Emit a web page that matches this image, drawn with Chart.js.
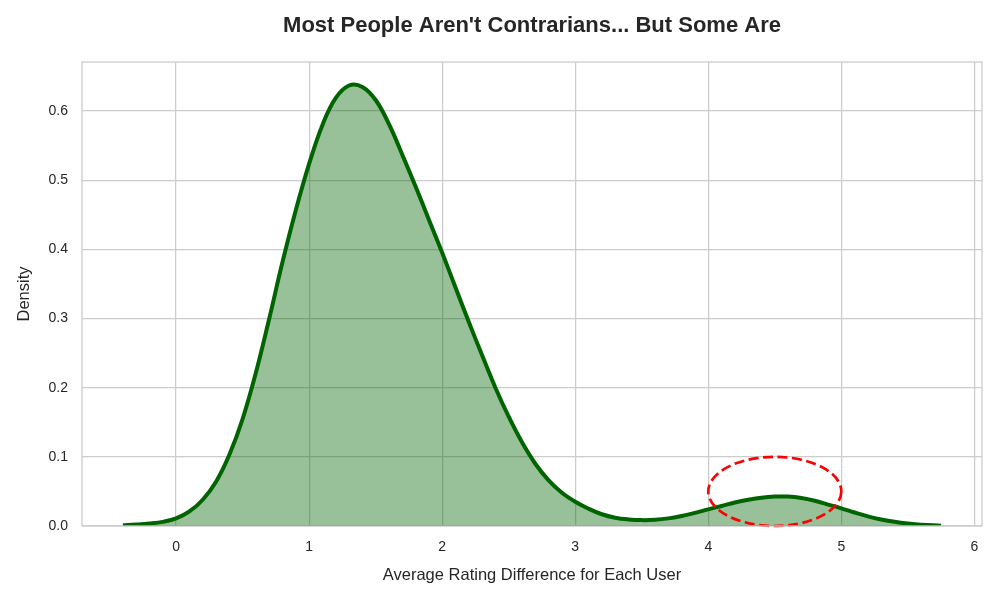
<!DOCTYPE html>
<html>
<head>
<meta charset="utf-8">
<script src="https://cdn.jsdelivr.net/npm/chart.js@4.4.1/dist/chart.umd.min.js"></script>
<style>
  html, body { margin: 0; padding: 0; background: #ffffff; }
  #wrap { width: 1000px; height: 600px; }
</style>
</head>
<body>
<div id="wrap"><canvas id="c" width="1000" height="600"></canvas></div>
<script>
// ---- data ----
const xValues = [-0.4, -0.3, -0.2, -0.1, 0.0, 0.1, 0.2, 0.3, 0.4, 0.5, 0.6, 0.7, 0.8, 0.9, 1.0,
  1.1, 1.2, 1.3, 1.4, 1.5, 1.6, 1.7, 1.8, 1.9, 2.0, 2.1, 2.2, 2.3, 2.4, 2.5, 2.6, 2.7,
  2.8, 2.9, 3.0, 3.1, 3.2, 3.3, 3.4, 3.5, 3.6, 3.7, 3.8, 3.9, 4.0, 4.1, 4.2, 4.3, 4.4, 4.5,
  4.6, 4.7, 4.8, 4.9, 5.0, 5.1, 5.2, 5.3, 5.4, 5.5, 5.6, 5.75];
const densityValues = [0.001, 0.002, 0.0035, 0.006, 0.011, 0.021, 0.038, 0.064, 0.103, 0.155, 0.222,
  0.300, 0.382, 0.457, 0.524, 0.580, 0.619, 0.637, 0.635, 0.616, 0.581, 0.537, 0.491,
  0.443, 0.395, 0.345, 0.295, 0.247, 0.200, 0.158, 0.121, 0.090, 0.066, 0.048, 0.035, 0.025,
  0.017, 0.012, 0.0095, 0.0085, 0.009, 0.011, 0.0145, 0.019, 0.024, 0.029, 0.034, 0.038, 0.041,
  0.0425, 0.0425, 0.0405, 0.0365, 0.031, 0.0255, 0.0195, 0.014, 0.0095, 0.006, 0.0035, 0.0018, 0.0005];
const xTicks = [0, 1, 2, 3, 4, 5, 6];
const yTicks = [0.0, 0.1, 0.2, 0.3, 0.4, 0.5, 0.6];
const highlight = { cx: 4.5, cy: 0.05, width: 1.0, height: 0.1 };
const titleText = "Most People Aren't Contrarians... But Some Are";
const xLabel = 'Average Rating Difference for Each User';
const yLabel = 'Density';

const curve = xValues.map((x, i) => ({ x: x, y: densityValues[i] }));
const baseLine = [{ x: xValues[0], y: 0 }, { x: xValues[xValues.length - 1], y: 0 }];

const FONT = "'Liberation Sans', Arial, sans-serif";
const TEXT = '#262626';
const GRID = '#cccccc';

const framePlugin = {
  id: 'frame',
  afterDatasetsDraw(chart) {
    const { ctx, chartArea: a, scales } = chart;
    const xs = scales.x, ys = scales.y;
    const cx = xs.getPixelForValue(highlight.cx);
    const cy = ys.getPixelForValue(highlight.cy);
    const rx = Math.abs(xs.getPixelForValue(highlight.cx + highlight.width / 2) - cx);
    const ry = Math.abs(ys.getPixelForValue(highlight.cy + highlight.height / 2) - cy);
    ctx.save();
    ctx.beginPath();
    ctx.ellipse(cx, cy, rx, ry, 0, 0, Math.PI * 2);
    ctx.setLineDash([10, 4.5]);
    ctx.lineWidth = 2.7;
    ctx.strokeStyle = '#ff0000';
    ctx.stroke();
    ctx.restore();
    ctx.save();
    ctx.strokeStyle = GRID;
    ctx.lineWidth = 1.3;
    ctx.strokeRect(a.left, a.top, a.right - a.left, a.bottom - a.top);
    ctx.restore();
  },
  afterDraw(chart) {
    const { ctx, chartArea: a } = chart;
    ctx.save();
    ctx.fillStyle = TEXT;
    ctx.font = "bold 22px " + FONT;
    ctx.textAlign = 'center';
    ctx.textBaseline = 'middle';
    ctx.fillText(titleText, (a.left + a.right) / 2, 26);
    ctx.restore();
  }
};

new Chart(document.getElementById('c'), {
  type: 'line',
  data: {
    datasets: [
      {
        data: curve,
        borderColor: '#006400',
        borderWidth: 4,
        backgroundColor: 'rgba(0,100,0,0.4)',
        fill: 'origin',
        pointRadius: 0,
        tension: 0.4,
        order: 1
      },
      {
        data: baseLine,
        borderColor: 'rgba(0,100,0,0.8)',
        borderWidth: 1.3,
        pointRadius: 0,
        fill: false,
        order: 2
      }
    ]
  },
  options: {
    responsive: false,
    animation: false,
    layout: { padding: { left: 0, right: 18, top: 62, bottom: 0 } },
    plugins: { legend: { display: false }, tooltip: { enabled: false } },
    elements: { line: { capBezierPoints: true } },
    scales: {
      x: {
        type: 'linear',
        min: -0.7075,
        max: 6.0575,
        afterBuildTicks(s) { s.ticks = xTicks.map(v => ({ value: v })); },
        afterFit(s) { s.height = 74; },
        grid: { color: GRID, lineWidth: 1.25, drawTicks: false },
        border: { display: false },
        ticks: { padding: 13, color: TEXT, font: { family: FONT, size: 14 }, callback: v => String(v) },
        title: { display: true, text: xLabel, color: TEXT, font: { family: FONT, size: 16.5 }, padding: { bottom: 15 } }
      },
      y: {
        type: 'linear',
        min: 0,
        max: 0.671,
        afterBuildTicks(s) { s.ticks = yTicks.map(v => ({ value: v })); },
        afterFit(s) { s.width = 82; },
        grid: { color: GRID, lineWidth: 1.25, drawTicks: false },
        border: { display: false },
        ticks: { padding: 14, color: TEXT, font: { family: FONT, size: 14 }, callback: v => Number(v).toFixed(1) },
        title: { display: true, text: yLabel, color: TEXT, font: { family: FONT, size: 16.5 }, padding: { top: 15 } }
      }
    }
  },
  plugins: [framePlugin]
});
</script>
</body>
</html>
